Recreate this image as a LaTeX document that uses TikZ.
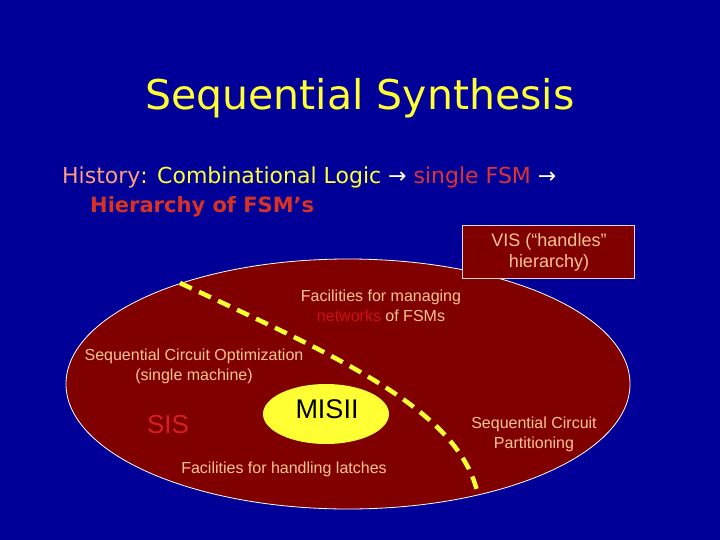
\documentclass[tikz,border=0pt]{standalone}
\usepackage{fontspec}
\setmainfont{DejaVu Sans}
\newfontfamily\smallfont{Liberation Sans}
\newfontfamily\arrowfont{DejaVu Sans}
\usetikzlibrary{shapes.geometric}
\definecolor{bgblue}{HTML}{000099}
\definecolor{darkred}{HTML}{800000}
\definecolor{peach}{HTML}{FFC58F}
\definecolor{pinkish}{HTML}{FF9E7A}
\definecolor{redtxt}{HTML}{DD3333}
\definecolor{hier}{HTML}{D83322}
\definecolor{ylw}{HTML}{FFFF33}
\definecolor{netred}{HTML}{CC1111}
\definecolor{sisred}{HTML}{D42020}
\tikzset{
  lbl/.style={text=peach, font=\smallfont\fontsize{16}{20}\selectfont, align=center, inner sep=0pt},
  big/.style={inner sep=0pt, anchor=base west},
}
\begin{document}
\begin{tikzpicture}[x=1pt,y=-1pt]
\fill[bgblue] (0,0) rectangle (720,540);
\useasboundingbox (0,0) rectangle (720,540);
% title
\node[inner sep=0pt, anchor=base, text=ylw, font=\fontsize{41}{50}\selectfont] (title) at (360,110) {Sequential Synthesis};
% history line
\node[big, font=\fontsize{22}{26}\selectfont] (hist) at (62,184) {\textcolor{pinkish}{History}\textcolor{ylw}{: Combinational Logic} \textcolor{white}{\arrowfont →} \textcolor{redtxt}{single FSM} \textcolor{white}{\arrowfont →}};
\node[big, font=\bfseries\fontsize{21}{25}\selectfont, text=hier] (hier) at (90,213) {Hierarchy of FSM's};
% big ellipse
\node[ellipse, draw=white, line width=0.8pt, fill=darkred, minimum width=564pt, minimum height=250pt, inner sep=0pt] (big) at (348,384) {};
% VIS box
\node[draw=white!85!black, line width=1pt, fill=darkred, minimum width=172pt, minimum height=53pt, inner sep=0pt] (vis) at (548,252) {};
\node[lbl, font=\smallfont\fontsize{18}{21}\selectfont] (vistxt) at (549,252) {VIS (“handles”\\hierarchy)};
% dashed boundary
\coordinate (d1) at (180,283);
\coordinate (d2) at (478,495);
\draw[ylw, line width=4.5pt, dash pattern=on 13pt off 8pt] (d1) .. controls (340,358) and (460,410) .. (d2);
% MISII
\node[ellipse, fill=ylw, minimum width=126pt, minimum height=60pt, inner sep=0pt] (misii) at (326,414) {};
\node[inner sep=0pt, font=\smallfont\fontsize{27}{30}\selectfont, text=black] (misiitxt) at (327,409) {MISII};
% SIS
\node[inner sep=0pt, font=\smallfont\fontsize{26}{30}\selectfont, text=sisred] (sis) at (168,425) {SIS};
% labels
\node[lbl] (fac1) at (381,306) {Facilities for managing\\\textcolor{netred}{networks} of FSMs};
\node[lbl] (seqopt) at (194,366) {Sequential Circuit Optimization\\(single machine)};
\node[lbl] (latch) at (284,469) {Facilities for handling latches};
\node[lbl] (part) at (534,434) {Sequential Circuit\\Partitioning};
\end{tikzpicture}
\end{document}
